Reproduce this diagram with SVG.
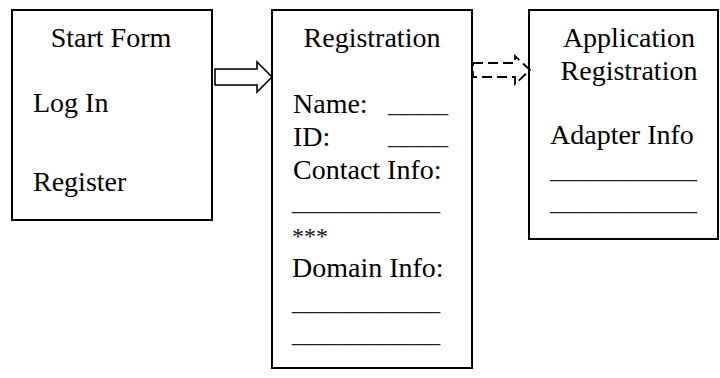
<svg xmlns="http://www.w3.org/2000/svg" width="720" height="378" viewBox="0 0 720 378">
  <style>
    .box { fill: #fff; stroke: #000; stroke-width: 2; }
    .t { font-family: "Liberation Serif", "Times New Roman", serif; font-size: 28px; fill: #000; }
    .c { text-anchor: middle; }
    .stars { font-family: "Liberation Serif", "Times New Roman", serif; font-size: 24px; fill: #111; }
    .blank { font-family: "Liberation Serif", "Times New Roman", serif; font-size: 28px; fill: #222; }
    .arrow { fill: #fff; stroke: #000; stroke-width: 1.6; stroke-linejoin: miter; }
    .dashed { fill: none; stroke: #000; stroke-width: 1.8; stroke-dasharray: 10 5; }
  </style>
  <rect width="720" height="378" fill="#fff"/>

  <!-- Start form -->
  <g id="start-form">
    <rect class="box" x="12" y="10" width="200" height="210"/>
    <text class="t c" x="111" y="47">Start Form</text>
    <text class="t" x="33" y="112">Log In</text>
    <text class="t" x="33" y="191">Register</text>
  </g>

  <!-- Registration form: rows on a 33px line pitch -->
  <g id="registration">
    <rect class="box" x="272" y="10" width="200" height="358"/>
    <text class="t c" x="372" y="47">Registration</text>
    <text class="t" x="293" y="113">Name:</text>
    <text class="blank" x="388" y="112" textLength="60" lengthAdjust="spacingAndGlyphs">____</text>
    <text class="t" x="293" y="146">ID:</text>
    <text class="blank" x="388" y="144" textLength="60" lengthAdjust="spacingAndGlyphs">____</text>
    <text class="t" x="293" y="179">Contact Info:</text>
    <text class="blank" x="292" y="210" textLength="148" lengthAdjust="spacingAndGlyphs">__________</text>
    <text class="stars" x="292" y="244">***</text>
    <text class="t" x="292" y="277">Domain Info:</text>
    <text class="blank" x="292" y="310" textLength="148" lengthAdjust="spacingAndGlyphs">__________</text>
    <text class="blank" x="292" y="342" textLength="148" lengthAdjust="spacingAndGlyphs">__________</text>
  </g>

  <!-- Application registration form -->
  <g id="application-registration">
    <rect class="box" x="529" y="10" width="189" height="229"/>
    <text class="t c" x="629" y="47">Application</text>
    <text class="t c" x="629" y="80">Registration</text>
    <text class="t" x="550" y="144">Adapter Info</text>
    <text class="blank" x="550" y="178" textLength="147" lengthAdjust="spacingAndGlyphs">__________</text>
    <text class="blank" x="550" y="210" textLength="147" lengthAdjust="spacingAndGlyphs">__________</text>
  </g>

  <!-- Connectors -->
  <g id="connectors">
    <polygon class="arrow" points="215,69 257,69 257,62 272,77 257,92 257,85 215,85"/>
    <polygon class="dashed" points="473,63 515,63 515,56 530,70 515,84 515,77 473,77"/>
  </g>
</svg>
